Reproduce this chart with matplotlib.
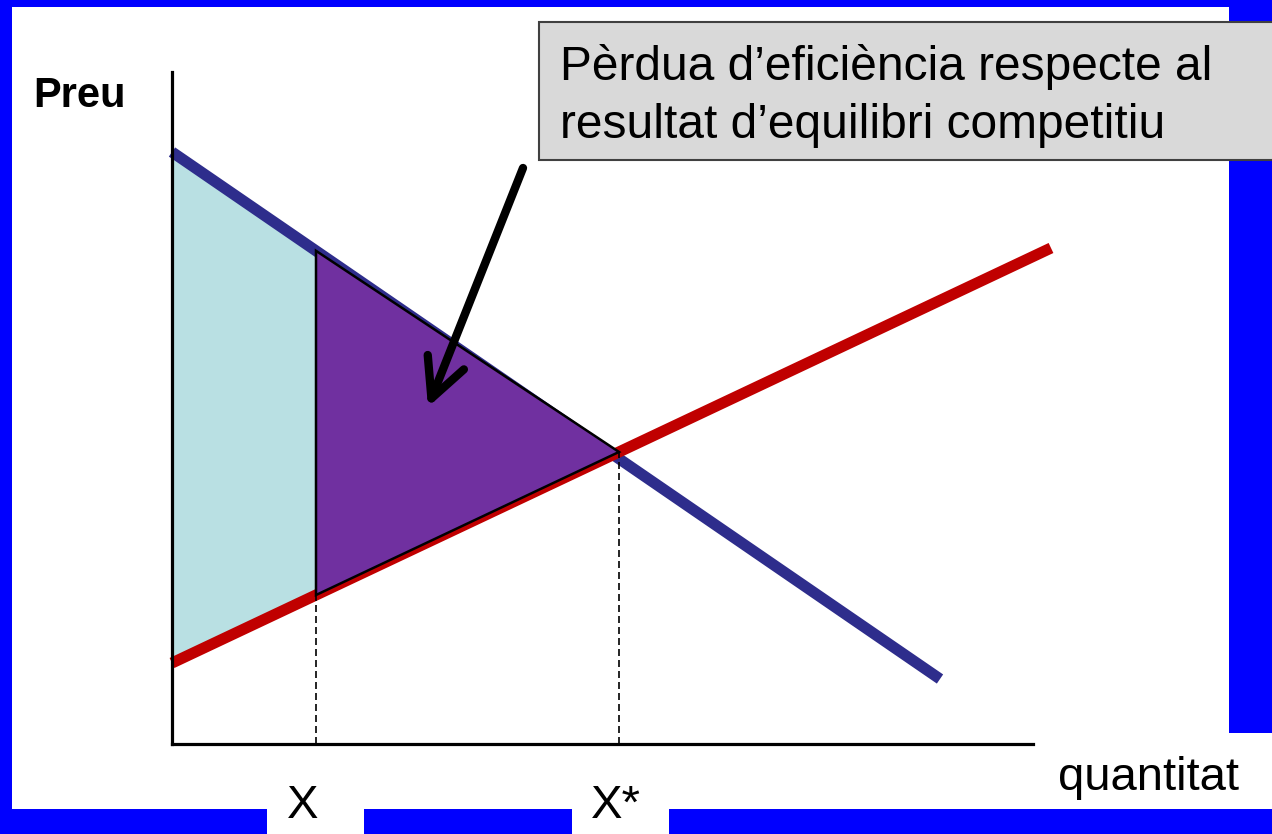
import numpy as np
import matplotlib
matplotlib.use("Agg")
import matplotlib.pyplot as plt
from matplotlib.patches import Rectangle, Polygon

plt.rcParams['font.family'] = ['Liberation Sans', 'DejaVu Sans']

# quantity / price in plot units (origin at the axes corner)
demand_q = [0.0, 7.68]
demand_p = [5.92, 0.65]
supply_q = [0.0, 8.79]
supply_p = [0.81, 4.96]
x_mon = 1.44      # X
x_comp = 4.47     # X*
q_max, p_max = 8.61, 6.72

box_text = "Pèrdua d’eficiència respecte al\nresultat d’equilibri competitiu"

W, H = 1272, 834
fig = plt.figure(figsize=(W / 100, H / 100), dpi=100)
fig.patch.set_facecolor('white')

def px(x0, y0, x1, y1):
    # pixel box -> figure fraction rect
    return (x0 / W, 1 - y1 / H), (x1 - x0) / W, (y1 - y0) / H

# blue slide frame
blue = '#0000FF'
for x0, y0, x1, y1 in [(0, 0, W, 7), (0, 0, 12, H), (1229, 0, W, 733),
                       (0, 809, 267, H), (364, 809, 572, H), (669, 809, W, H)]:
    xy, w, h = px(x0, y0, x1, y1)
    fig.add_artist(Rectangle(xy, w, h, transform=fig.transFigure,
                             facecolor=blue, edgecolor='none', zorder=0))

ax = fig.add_axes([172 / W, (H - 744) / H, 861 / W, 672 / H])
ax.set_xlim(0, q_max)
ax.set_ylim(0, p_max)
ax.patch.set_alpha(0)
for s in ['top', 'right']:
    ax.spines[s].set_visible(False)
for s in ['left', 'bottom']:
    ax.spines[s].set_linewidth(2.3)
ax.set_xticks([])
ax.set_yticks([])

def demand(q):
    return np.interp(q, demand_q, demand_p)

def supply(q):
    return np.interp(q, supply_q, supply_p)

# consumer/producer area left of X
qq = np.linspace(0, x_mon, 50)
ax.fill_between(qq, supply(qq), demand(qq), color='#B9E0E3', lw=0, zorder=1)

ax.plot(demand_q, demand_p, color='#2E2D8C', lw=8, solid_capstyle='butt',
        zorder=2, clip_on=False)
ax.plot(supply_q, supply_p, color='#C00000', lw=8, solid_capstyle='butt',
        zorder=2, clip_on=False)

# deadweight loss triangle
tri = Polygon([[x_mon, demand(x_mon)], [x_mon, supply(x_mon)],
               [x_comp, supply(x_comp)]], closed=True,
              facecolor='#7030A0', edgecolor='black', lw=1.8, zorder=3)
ax.add_patch(tri)

ax.plot([x_mon, x_mon], [0, demand(x_mon)], color='black', lw=1.2,
        ls=(0, (4.2, 2.4)), zorder=4)
ax.plot([x_comp, x_comp], [0, supply(x_comp)], color='black', lw=1.2,
        ls=(0, (4.2, 2.4)), zorder=4)

ax.annotate('', xy=(2.56, 3.37), xytext=(3.51, 5.76),
            arrowprops=dict(arrowstyle='->, head_length=1.4, head_width=0.7',
                            lw=6, color='black', shrinkA=0, shrinkB=0,
                            mutation_scale=20),
            annotation_clip=False, zorder=5)

# callout box
xy, w, h = px(539, 22, 1290, 160)
fig.add_artist(Rectangle(xy, w, h, transform=fig.transFigure,
                         facecolor='#D9D9D9', edgecolor='#404040', lw=1.5,
                         zorder=6))
fig.text(560 / W, 1 - 80 / H, box_text.split('\n')[0], fontsize=34.5,
         ha='left', va='baseline', zorder=7)
fig.text(560 / W, 1 - 138 / H, box_text.split('\n')[1], fontsize=34.5,
         ha='left', va='baseline', zorder=7)

fig.text(33 / W, 1 - 107 / H, 'Preu', fontsize=30, fontweight='bold',
         ha='left', va='baseline')
fig.text(1058 / W, 1 - 790 / H, 'quantitat', fontsize=34, ha='left', va='baseline')
fig.text(303 / W, 1 - 818 / H, 'X', fontsize=34, ha='center', va='baseline')
fig.text(616 / W, 1 - 818 / H, 'X*', fontsize=34, ha='center', va='baseline')

fig.savefig('out.png', dpi=100)
